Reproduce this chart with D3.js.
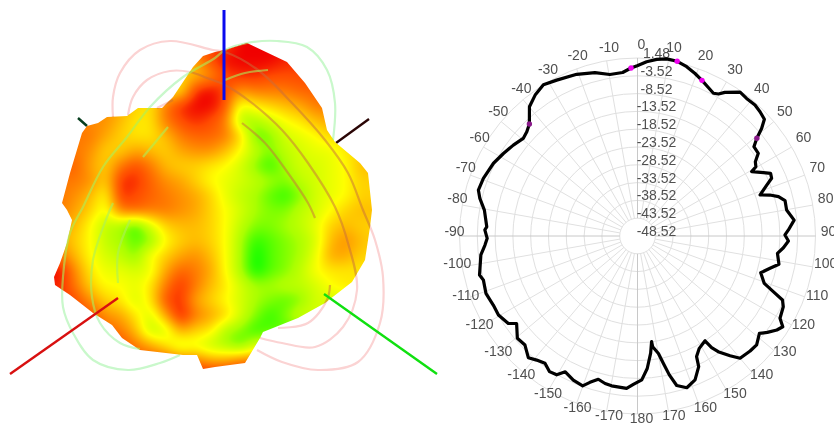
<!DOCTYPE html>
<html><head><meta charset="utf-8">
<script src="https://cdnjs.cloudflare.com/ajax/libs/d3/7.8.5/d3.min.js"></script>
<style>html,body{margin:0;padding:0;background:#fff;overflow:hidden}
#w{position:relative;width:834px;height:425px;overflow:hidden}
#w>*{position:absolute;left:0;top:0}
text{font-family:"Liberation Sans",Arial,sans-serif;font-size:14px;fill:#505050}</style></head>
<body><div id="w"><svg id="under" width="834" height="425"></svg><canvas id="surf" width="440" height="425"></canvas><svg id="over" width="834" height="425"></svg></div>
<script>
/* ---- polar pattern data ---- */
const angles=[-0.1,3.0,6.2,9.4,12.8,16.2,19.5,22.5,25.5,28.0,29.7,31.3,35.5,38.4,41.9,44.6,47.4,49.1,50.7,52.5,55.6,57.8,59.7,60.6,63.3,64.8,66.7,68.5,71.5,72.8,74.4,76.5,80.1,84.2,87.7,89.6,91.9,94.6,97.1,101.3,103.7,106.6,110.5,112.3,113.8,115.9,120.0,122.0,124.0,126.6,128.6,132.4,135.6,140.0,142.3,145.1,146.4,147.2,151.2,153.9,154.9,158.2,162.0,165.3,167.1,168.5,169.9,172.2,172.4,173.6,175.8,178.3,-178.4,-175.9,-170.2,-167.6,-164.7,-162.0,-159.9,-156.0,-152.0,-149.8,-147.0,-144.0,-140.9,-138.1,-134.1,-130.4,-125.9,-124.1,-119.6,-115.6,-110.7,-105.9,-103.9,-96.9,-93.4,-90.9,-87.7,-86.5,-80.4,-76.6,-73.9,-69.5,-63.2,-58.4,-53.8,-49.5,-46.7,-44.0,-39.9,-36.0,-31.9,-27.4,-20.6,-14.6,-9.7,-5.2,-2.2,-0.1];
const gains=[-0.7,0.5,1.4,1.9,1.8,1.0,-0.1,-1.2,-2.3,-3.1,-2.6,-1.3,1.1,0.8,0.9,0.5,-0.1,-2.4,-5.2,-7.3,-7.4,-9.4,-10.0,-11.7,-8.9,-7.2,-7.5,-9.5,-12.2,-9.6,-7.4,-5.9,-6.0,-4.3,-6.1,-7.1,-6.1,-7.4,-8.9,-8.0,-10.2,-12.4,-10.5,-7.3,-4.0,-3.0,-2.3,-0.4,-1.3,-3.1,-4.7,-3.2,-3.3,-3.7,-6.0,-8.9,-10.9,-13.5,-12.5,-10.8,-8.0,-5.0,-3.7,-5.1,-8.5,-12.0,-15.0,-17.1,-18.6,-15.4,-11.2,-8.1,-6.8,-5.6,-5.8,-6.1,-6.8,-5.3,-3.7,-4.2,-5.3,-3.4,-3.1,-4.3,-3.6,-2.6,-4.5,-4.2,-6.6,-4.7,-3.6,-3.6,-3.0,-3.5,-2.8,-4.2,-5.6,-6.3,-5.6,-6.1,-4.9,-3.0,-2.0,-2.3,-3.2,-4.3,-5.3,-6.3,-5.8,-4.8,-1.2,0.4,1.5,0.8,0.0,-1.1,-2.5,-2.4,-1.3,-0.7];
const markerAngles=[-2.2,12.8,22.5,50.7,-44.0];
const markerGains=[-1.3,1.8,-1.2,-5.2,-4.8];
const ringValues=[1.48,-3.52,-8.52,-13.52,-18.52,-23.52,-28.52,-33.52,-38.52,-43.52,-48.52];
const angleTicks=[-170,-160,-150,-140,-130,-120,-110,-100,-90,-80,-70,-60,-50,-40,-30,-20,-10,0,10,20,30,40,50,60,70,80,90,100,110,120,130,140,150,160,170,180];
/* ---- 3D pattern picture: sampled colour level, outline, guide arcs, axes ---- */
const gridX=[60,75,90,105,120,135,150,165,180,195,210,225,240,255,270,285,300,315,330,345,360,375];
const gridY=[45,60,75,90,105,120,135,150,165,180,195,210,225,240,255,270,285,300,315,330,345,360,375];
const heat=[
[8,8,8,8,8,8,8,8,8,8,8,8,9,9,9,9,9,9,9,9,9,9],
[8,8,8,8,7,6,5,5,5,6,8,9,9,9,9,8.5,8.5,8.5,8.5,8.5,8.5,8.5],
[7,7,7,7,6,5,5,5,5,5.5,6.5,8,8.5,8.5,8,8,8,8,8,8,8,8],
[7,7,7,7,6,5,4.5,4.5,4.5,8.5,9,8,6.5,7,7,7,7.5,7.5,7.5,7.5,7.5,7.5],
[7,7,7,6.5,6,5,4.5,7,8.5,9,9,8,3.5,4.5,5,5.5,6,7,7,7,7,7],
[7,7,6.5,6.5,5.5,4.5,4.5,7,8,8.5,8,7,2,2,3,4,4.5,5.5,6,6,6,6],
[7,7,7,6,5,4.5,4.5,5.5,7,7.5,7.5,7,5,1,1.5,3,3.5,4,5,5,5,5],
[7,7,6.5,5,5,6,5.5,5,6,6.5,6.5,5.5,4,2.5,1.5,2.5,3,3.5,3.5,4.5,5,5],
[7.5,7.5,6,5,7,8,7,5.5,5,5,4.5,4,3,1.5,.5,2,3,3,3.5,4,5.5,5.5],
[7,7,6.5,5,8.5,8.5,7.5,6.5,6,5,4,3.5,3,2.5,2,1.5,2.5,3,3.5,4,5,5],
[7,6.5,5.5,4,8.5,8,7.5,7,6.5,6,5,3.5,2.5,2,1,.5,1.5,3,3.5,4,5,5],
[7,6,5,3.5,7,7.5,7,7,6.5,6,5,4,3,2,1.5,1.5,2.5,3,4,5,5.5,5.5],
[6,5.5,4,2.5,2,.5,3,5,5.5,5.5,5,4,2.5,1.5,1.5,2,2.5,3.5,5,5.5,5,5],
[6,5,4,2.5,2,1,1.5,4,5,5.5,5,4,2,.5,1,1.5,2,3,5.5,6.5,5.5,5],
[7,5.5,4,3,2.5,1.5,4,5,6,6.5,5.5,4,2,0,1,1.5,2,3.5,6,6,5,5],
[9,6.5,4.5,3.5,3.5,3,3.5,6,7.5,7,6,4,2,0,1,1.5,2.5,4,4.5,4.5,4.5,4.5],
[8.5,7,5,4,4,3.5,4.5,7,8.5,7,5.5,4.5,3,2,2,2.5,2.5,3,4,4.5,4.5,4.5],
[8.5,8,6.5,5,4.5,3,4.5,8,8.5,6,5,4,3,2,1.5,1,1.5,3,3,3,3,3],
[8.5,8,8,6.5,6,4.5,3,6,9,7,6,5,3,1.5,.5,1.5,3,3,3,3,3,3],
[8,8,8,7.5,7,5.5,2.5,3,6,5,4.5,2,1.5,.5,1,1,1,1,1,1,1,1],
[8,8,8,8,8,7,6,4.5,3,3.5,2.5,2,1,3,3,3,3,3,3,3,3,3],
[8,8,8,8,8,8,8,8,7,7,6,6,7,7,7,7,7,7,7,7,7,7],
[9,9,9,9,9,9,9,9,9,9,9,9,9,9,9,9,9,9,9,9,9,9]];
const levelStops=[0,2,4,6,8,9,10];
const levelColors=['#00ff00','#aaff00','#ffff00','#ffa500','#ff4a00','#f00000','#a00000'];
const outline=[[247,43],[225,50],[215,52],[203,56],[193,67],[173,97],[162,108],[138,108],[127,116],[107,117],[98,123],[87,126],[82,133],[70,173],[62,203],[67,210],[72,220],[67,243],[60,263],[54,277],[55,285],[70,295],[93,313],[112,325],[122,338],[140,350],[183,355],[197,355],[203,369],[215,367],[245,363],[260,338],[263,332],[298,318],[325,303],[352,282],[365,260],[370,227],[372,210],[368,173],[360,163],[335,142],[327,130],[322,108],[305,83],[287,62]];
const pinkArcs=[
[[113,117],[113,97],[120,73],[140,50],[170,41],[213,50],[225,52],[258,70],[292,103],[325,140],[348,173],[363,210],[375,240],[383,277],[380,323],[358,362],[318,370],[282,362],[257,350]],
[[128,115],[133,97],[147,80],[170,71],[190,72],[207,78],[225,85],[252,103],[282,130],[308,163],[335,207],[348,243],[357,290],[343,327],[315,347],[282,343],[260,338]],
[[242,123],[265,143],[288,173],[308,203],[315,218]],
[[330,285],[327,300],[308,323],[278,328]],
[[157,108],[173,100]]];
const greenArcs=[
[[333,140],[335,103],[327,70],[307,47],[277,41],[247,43],[225,50],[215,58],[183,77],[150,107],[127,137],[103,167],[83,207],[70,233],[63,277],[63,307],[73,333],[93,360],[128,370],[160,363],[180,355]],
[[268,70],[245,73],[225,80]],
[[168,127],[143,157]],
[[113,203],[107,217],[93,260],[92,297],[100,323],[120,343],[140,349]],
[[130,220],[118,253],[118,283]]];
const axesBack=[{p:[[369,119],[336,143]],c:'#2a0505',w:2.4},{p:[[78,118],[87,126]],c:'#063d1e',w:2.4}];
const axesFront=[{p:[[224,10],[224,100]],c:'#0a0aee',w:3},{p:[[10,374],[118,298]],c:'#d81010',w:2.4},{p:[[437,374],[324,294]],c:'#10e010',w:2.4}];

const cx=637.5,cy=236,R=178;
const under=d3.select('#under'),over=d3.select('#over');
const px=d3.scaleIdentity(),py=d3.scaleIdentity();
const lin=d3.line().x(d=>px(d[0])).y(d=>py(d[1]));
const smooth=d3.line().x(d=>px(d[0])).y(d=>py(d[1])).curve(d3.curveCatmullRom.alpha(.5));

/* ---- left: guide arcs behind ---- */
const ug=under.append('g').attr('fill','none');
ug.selectAll('.p').data(pinkArcs).join('path').attr('d',smooth).attr('stroke','#fbd3d3').attr('stroke-width',2.2);
ug.selectAll('.g').data(greenArcs).join('path').attr('d',smooth).attr('stroke','#c9f8cb').attr('stroke-width',2.2);
ug.selectAll('.a').data(axesBack).join('path').attr('d',d=>lin(d.p)).attr('stroke',d=>d.c).attr('stroke-width',d=>d.w);

/* ---- left: surface ---- */
const levelColor=d3.scaleLinear().domain(levelStops).range(levelColors).clamp(true);
const gx=d3.scaleLinear().domain(d3.extent(gridX)).range([0,gridX.length-1]).clamp(true);
const gy=d3.scaleLinear().domain(d3.extent(gridY)).range([0,gridY.length-1]).clamp(true);
const W=440,H=425,field=new Float64Array(W*H);
for(let y=0;y<H;y++)for(let x=0;x<W;x++){
  const fx=gx(x),fy=gy(y),i=Math.min(Math.floor(fx),gridX.length-2),j=Math.min(Math.floor(fy),gridY.length-2),u=fx-i,v=fy-j;
  field[y*W+x]=(heat[j][i]*(1-u)+heat[j][i+1]*u)*(1-v)+(heat[j+1][i]*(1-u)+heat[j+1][i+1]*u)*v;
}
d3.blur2({data:field,width:W,height:H},5);
const ctx=document.getElementById('surf').getContext('2d');
const img=ctx.createImageData(W,H);
for(let k=0;k<W*H;k++){const c=d3.rgb(levelColor(field[k]));img.data[k*4]=c.r;img.data[k*4+1]=c.g;img.data[k*4+2]=c.b;img.data[k*4+3]=255;}
const off=document.createElement('canvas');off.width=W;off.height=H;off.getContext('2d').putImageData(img,0,0);
ctx.beginPath();d3.line().x(d=>px(d[0])).y(d=>py(d[1])).context(ctx)(outline);ctx.closePath();ctx.clip();ctx.drawImage(off,0,0);

/* ---- left: arcs on top of surface, axes ---- */
over.append('clipPath').attr('id','cl').append('path').attr('d',lin(outline)+'Z');
const og=over.append('g').attr('fill','none').attr('clip-path','url(#cl)');
og.selectAll('.p').data(pinkArcs).join('path').attr('d',smooth).attr('stroke','rgba(200,110,60,.5)').attr('stroke-width',2.2);
og.selectAll('.g').data(greenArcs).join('path').attr('d',smooth).attr('stroke','rgba(170,240,90,.6)').attr('stroke-width',2.2);
over.append('g').attr('fill','none').selectAll('path').data(axesFront).join('path').attr('d',d=>lin(d.p)).attr('stroke',d=>d.c).attr('stroke-width',d=>d.w);

/* ---- right: polar plot ---- */
const r=d3.scaleLinear().domain([-48.52,1.48]).range([0,R]);
const a=d3.scaleLinear().domain([0,360]).range([0,2*Math.PI]);
const pg=under.append('g').attr('transform',`translate(${cx},${cy})`);
pg.selectAll('circle').data(ringValues.slice(0,-1)).join('circle').attr('r',d=>r(d)).attr('fill','none').attr('stroke','#e0e0e0');
pg.selectAll('.sp').data(angleTicks).join('line').attr('x1',d=>r(-43.52)*Math.sin(a(d))).attr('y1',d=>-r(-43.52)*Math.cos(a(d))).attr('x2',d=>R*Math.sin(a(d))).attr('y2',d=>-R*Math.cos(a(d))).attr('stroke',d=>d%90===0?'#c8c8c8':'#e0e0e0');
const tg=over.append('g').attr('transform',`translate(${cx},${cy})`);
tg.selectAll('.rl').data(ringValues).join('text').attr('x',19).attr('y',d=>-r(d)-5).attr('dy','.35em').attr('text-anchor','middle').text(d=>d);
tg.selectAll('.al').data(angleTicks).join('text').attr('x',d=>4+187*Math.sin(a(d))).attr('y',d=>-5-187*Math.cos(a(d))).attr('dy','.35em').attr('text-anchor','middle').text(d=>d);
const curve=d3.lineRadial().angle((d,i)=>a(angles[i])).radius((d,i)=>r(gains[i]));
tg.append('path').attr('d',curve(angles)).attr('fill','none').attr('stroke','#000').attr('stroke-width',3.2).attr('stroke-linejoin','round');
tg.selectAll('.m').data(markerAngles).join('circle').attr('cx',(d,i)=>r(markerGains[i])*Math.sin(a(d))).attr('cy',(d,i)=>-r(markerGains[i])*Math.cos(a(d))).attr('r',2.7).attr('fill',(d,i)=>i<3?'#f000f0':'#8a1a8a');
</script></body></html>
